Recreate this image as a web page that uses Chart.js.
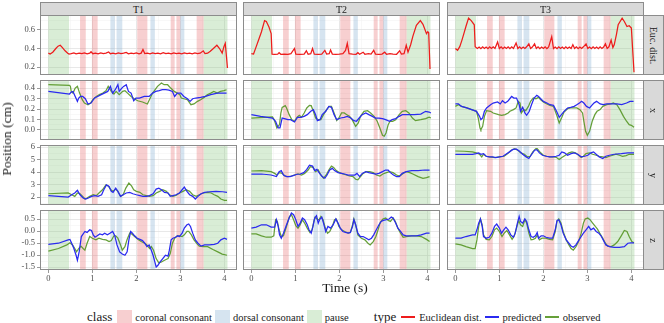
<!DOCTYPE html>
<html>
<head>
<meta charset="utf-8">
<script src="https://cdn.jsdelivr.net/npm/chart.js@4.4.1/dist/chart.umd.min.js"></script>
<style>
body { margin: 0; background: #fff; }
#wrap { position: relative; width: 664px; height: 323px; overflow: hidden; font-family: "Liberation Serif", "DejaVu Serif", serif; color: #1a1a1a; }
#wrap canvas { position: absolute; }
.strip { position: absolute; background: #d9d9d9; border: 1px solid #8c8c8c; box-sizing: border-box; font-size: 10px; display: flex; align-items: center; justify-content: center; }
.vlab { transform: rotate(90deg); white-space: nowrap; }
.title { position: absolute; font-size: 13.5px; white-space: nowrap; }
#legend { position: absolute; left: 87px; top: 309px; height: 16px; display: flex; align-items: center; font-size: 10.5px; white-space: nowrap; }
#legend .lt { font-size: 13px; margin-right: 5px; }
#legend .sw { width: 15px; height: 14px; margin-right: 3px; }
#legend .ln { width: 14px; height: 1.5px; margin-right: 4px; }
#legend .lb { margin-right: 3px; }
</style>
</head>
<body>
<div id="wrap"></div>
<script>
// [time (s), value] pairs
const eucT1 = [[0,0.35],[0.04,0.34],[0.1,0.36],[0.17,0.40],[0.22,0.425],[0.27,0.435],[0.32,0.41],[0.38,0.375],[0.44,0.35],[0.47,0.34],[0.52,0.345],[0.58,0.352],[0.63,0.343],[0.7,0.35],[0.76,0.344],[0.82,0.352],[0.88,0.343],[0.94,0.35],[0.97,0.365],[1.01,0.344],[1.07,0.35],[1.13,0.343],[1.19,0.352],[1.25,0.344],[1.31,0.35],[1.37,0.362],[1.41,0.344],[1.47,0.35],[1.53,0.343],[1.59,0.352],[1.65,0.344],[1.71,0.35],[1.77,0.358],[1.82,0.343],[1.88,0.35],[1.94,0.344],[2.0,0.352],[2.06,0.343],[2.11,0.35],[2.15,0.39],[2.19,0.345],[2.25,0.35],[2.31,0.343],[2.37,0.352],[2.43,0.344],[2.49,0.35],[2.55,0.343],[2.61,0.356],[2.67,0.344],[2.73,0.35],[2.79,0.343],[2.85,0.352],[2.91,0.344],[2.97,0.35],[3.03,0.343],[3.09,0.352],[3.15,0.344],[3.21,0.35],[3.27,0.343],[3.33,0.352],[3.39,0.344],[3.45,0.35],[3.52,0.375],[3.56,0.345],[3.62,0.35],[3.68,0.37],[3.75,0.40],[3.83,0.435],[3.89,0.40],[3.95,0.35],[3.99,0.42],[4.02,0.455],[4.05,0.3],[4.07,0.19]];
const eucT2 = [[0,0.345],[0.05,0.34],[0.11,0.42],[0.17,0.50],[0.23,0.58],[0.30,0.70],[0.34,0.69],[0.40,0.63],[0.45,0.56],[0.47,0.34],[0.53,0.338],[0.6,0.34],[0.63,0.355],[0.67,0.338],[0.75,0.34],[0.83,0.338],[0.9,0.345],[0.98,0.40],[1.01,0.34],[1.1,0.338],[1.2,0.34],[1.25,0.375],[1.29,0.338],[1.35,0.345],[1.39,0.40],[1.43,0.34],[1.52,0.338],[1.6,0.34],[1.67,0.38],[1.71,0.34],[1.77,0.345],[1.8,0.385],[1.84,0.34],[1.92,0.338],[2.0,0.34],[2.08,0.345],[2.14,0.38],[2.18,0.455],[2.22,0.345],[2.3,0.34],[2.38,0.338],[2.42,0.355],[2.46,0.338],[2.54,0.36],[2.58,0.338],[2.66,0.345],[2.72,0.34],[2.78,0.38],[2.82,0.34],[2.9,0.338],[2.97,0.34],[3.03,0.36],[3.07,0.338],[3.15,0.345],[3.22,0.34],[3.3,0.338],[3.37,0.375],[3.41,0.34],[3.47,0.345],[3.52,0.435],[3.56,0.36],[3.62,0.44],[3.67,0.53],[3.75,0.65],[3.84,0.70],[3.9,0.66],[3.98,0.56],[4.01,0.58],[4.03,0.57],[4.06,0.18]];
const eucT3 = [[0,0.40],[0.05,0.38],[0.1,0.42],[0.15,0.49],[0.2,0.57],[0.24,0.636],[0.3,0.727],[0.36,0.70],[0.43,0.655],[0.45,0.42],[0.5,0.40],[0.54,0.415],[0.58,0.398],[0.62,0.418],[0.66,0.40],[0.7,0.415],[0.74,0.398],[0.78,0.418],[0.82,0.40],[0.86,0.418],[0.9,0.40],[0.96,0.47],[1.0,0.40],[1.04,0.418],[1.08,0.398],[1.12,0.415],[1.16,0.40],[1.2,0.418],[1.24,0.398],[1.28,0.418],[1.32,0.40],[1.38,0.46],[1.42,0.40],[1.46,0.418],[1.5,0.398],[1.54,0.415],[1.58,0.40],[1.62,0.418],[1.67,0.45],[1.71,0.40],[1.75,0.415],[1.8,0.45],[1.84,0.40],[1.88,0.418],[1.92,0.398],[1.96,0.415],[2.0,0.40],[2.04,0.418],[2.08,0.398],[2.12,0.418],[2.19,0.527],[2.23,0.40],[2.27,0.415],[2.31,0.398],[2.35,0.418],[2.39,0.40],[2.43,0.415],[2.47,0.398],[2.51,0.418],[2.55,0.40],[2.59,0.415],[2.63,0.40],[2.67,0.44],[2.71,0.40],[2.75,0.418],[2.79,0.398],[2.83,0.415],[2.87,0.40],[2.91,0.418],[2.97,0.45],[3.01,0.40],[3.05,0.415],[3.09,0.398],[3.13,0.418],[3.17,0.40],[3.21,0.415],[3.25,0.398],[3.29,0.418],[3.33,0.40],[3.37,0.415],[3.41,0.45],[3.45,0.40],[3.49,0.418],[3.54,0.49],[3.58,0.41],[3.61,0.44],[3.66,0.55],[3.70,0.655],[3.79,0.727],[3.84,0.69],[3.90,0.636],[3.95,0.645],[4.0,0.62],[4.06,0.145]];

const xPredT1 = [[0,0.368],[0.48,0.343],[0.52,0.362],[0.56,0.368],[0.61,0.32],[0.66,0.273],[0.69,0.305],[0.73,0.32],[0.78,0.32],[0.84,0.298],[0.9,0.248],[0.97,0.257],[1.05,0.305],[1.12,0.32],[1.2,0.337],[1.27,0.352],[1.35,0.368],[1.41,0.416],[1.46,0.352],[1.52,0.384],[1.58,0.432],[1.61,0.368],[1.67,0.40],[1.71,0.416],[1.77,0.432],[1.82,0.368],[1.88,0.352],[1.94,0.279],[1.99,0.305],[2.07,0.305],[2.18,0.32],[2.29,0.32],[2.37,0.352],[2.44,0.368],[2.52,0.375],[2.59,0.384],[2.67,0.384],[2.74,0.381],[2.82,0.368],[2.87,0.32],[2.93,0.352],[3.01,0.352],[3.08,0.32],[3.16,0.298],[3.22,0.273],[3.28,0.298],[3.35,0.305],[3.46,0.311],[3.57,0.32],[3.69,0.337],[3.84,0.352],[3.99,0.352],[4.05,0.352]];
const xObsT1 = [[0,0.432],[0.48,0.425],[0.5,0.416],[0.52,0.368],[0.56,0.352],[0.61,0.40],[0.66,0.416],[0.71,0.352],[0.77,0.289],[0.82,0.257],[0.9,0.241],[0.96,0.257],[1.01,0.289],[1.09,0.32],[1.16,0.337],[1.24,0.352],[1.31,0.375],[1.36,0.416],[1.43,0.368],[1.49,0.343],[1.54,0.368],[1.61,0.337],[1.69,0.368],[1.74,0.375],[1.8,0.352],[1.88,0.32],[1.95,0.298],[2.03,0.279],[2.14,0.267],[2.25,0.248],[2.37,0.352],[2.48,0.416],[2.57,0.448],[2.63,0.432],[2.71,0.432],[2.78,0.40],[2.86,0.368],[2.93,0.352],[2.99,0.337],[3.02,0.305],[3.08,0.298],[3.16,0.289],[3.24,0.241],[3.31,0.248],[3.39,0.273],[3.46,0.289],[3.54,0.311],[3.61,0.337],[3.69,0.352],[3.76,0.368],[3.84,0.352],[3.91,0.368],[3.99,0.375],[4.05,0.384]];
const xPredT2 = [[0,0.146],[0.21,0.13],[0.48,0.114],[0.55,0.083],[0.61,0.019],[0.65,0.019],[0.70,0.114],[0.75,0.108],[0.83,0.098],[0.89,0.098],[0.98,0.076],[1.05,0.121],[1.12,0.121],[1.2,0.13],[1.27,0.146],[1.35,0.178],[1.41,0.194],[1.46,0.146],[1.5,0.089],[1.56,0.098],[1.61,0.146],[1.69,0.178],[1.76,0.225],[1.82,0.216],[1.88,0.146],[1.94,0.098],[2.03,0.114],[2.11,0.121],[2.18,0.13],[2.26,0.114],[2.33,0.089],[2.39,0.083],[2.45,0.114],[2.52,0.146],[2.6,0.162],[2.67,0.146],[2.75,0.13],[2.82,0.114],[2.9,0.114],[2.98,0.108],[3.05,0.098],[3.14,0.083],[3.2,0.098],[3.28,0.108],[3.36,0.13],[3.43,0.146],[3.55,0.146],[3.7,0.146],[3.85,0.152],[3.96,0.178],[4.04,0.171],[4.08,0.162]];
const xObsT2 = [[0,0.114],[0.48,0.124],[0.52,0.098],[0.58,0.019],[0.64,0.051],[0.67,0.162],[0.70,0.216],[0.77,0.232],[0.80,0.21],[0.86,0.146],[0.92,0.098],[0.98,0.083],[1.04,0.121],[1.09,0.14],[1.14,0.121],[1.2,0.162],[1.26,0.21],[1.32,0.235],[1.36,0.232],[1.41,0.178],[1.46,0.114],[1.52,0.098],[1.58,0.098],[1.64,0.146],[1.71,0.194],[1.77,0.225],[1.82,0.225],[1.88,0.162],[1.94,0.089],[1.99,0.114],[2.05,0.162],[2.11,0.162],[2.17,0.146],[2.23,0.13],[2.29,0.098],[2.37,0.035],[2.43,0.067],[2.48,0.13],[2.56,0.178],[2.64,0.184],[2.71,0.162],[2.79,0.13],[2.86,0.083],[2.92,0.019],[2.98,-0.051],[3.02,-0.06],[3.06,-0.029],[3.11,0.051],[3.15,0.083],[3.21,0.083],[3.28,0.098],[3.36,0.146],[3.43,0.178],[3.51,0.184],[3.58,0.162],[3.66,0.114],[3.73,0.089],[3.85,0.098],[3.96,0.108],[4.04,0.121],[4.08,0.114]];
const xPredT3 = [[0,0.248],[0.07,0.248],[0.14,0.225],[0.26,0.21],[0.37,0.194],[0.48,0.178],[0.55,0.13],[0.58,0.098],[0.62,0.114],[0.66,0.178],[0.71,0.21],[0.80,0.241],[0.86,0.257],[0.96,0.267],[1.02,0.248],[1.07,0.279],[1.13,0.257],[1.19,0.273],[1.25,0.305],[1.28,0.32],[1.33,0.305],[1.39,0.305],[1.45,0.241],[1.48,0.178],[1.53,0.216],[1.58,0.162],[1.62,0.14],[1.68,0.178],[1.73,0.241],[1.79,0.305],[1.85,0.33],[1.89,0.32],[1.94,0.298],[2.0,0.273],[2.08,0.257],[2.15,0.241],[2.23,0.235],[2.3,0.178],[2.36,0.121],[2.42,0.152],[2.47,0.178],[2.55,0.21],[2.62,0.216],[2.7,0.225],[2.76,0.241],[2.82,0.257],[2.87,0.273],[2.92,0.257],[2.98,0.225],[3.05,0.21],[3.1,0.235],[3.15,0.257],[3.21,0.273],[3.29,0.248],[3.36,0.241],[3.44,0.248],[3.55,0.248],[3.67,0.248],[3.78,0.241],[3.89,0.257],[3.97,0.273],[4.05,0.273]];
const xObsT3 = [[0,0.225],[0.07,0.241],[0.14,0.225],[0.26,0.21],[0.37,0.194],[0.48,0.178],[0.52,0.114],[0.56,0.019],[0.58,0.003],[0.62,0.035],[0.66,0.13],[0.71,0.184],[0.80,0.178],[0.86,0.162],[0.98,0.146],[1.05,0.14],[1.13,0.146],[1.2,0.162],[1.24,0.178],[1.32,0.194],[1.38,0.21],[1.43,0.273],[1.47,0.257],[1.5,0.162],[1.55,0.194],[1.6,0.184],[1.66,0.225],[1.71,0.273],[1.77,0.305],[1.83,0.298],[1.89,0.311],[1.94,0.289],[2.0,0.267],[2.08,0.248],[2.15,0.235],[2.23,0.225],[2.3,0.146],[2.36,0.067],[2.42,0.121],[2.47,0.171],[2.55,0.203],[2.62,0.21],[2.7,0.21],[2.76,0.21],[2.83,0.194],[2.89,0.162],[2.92,0.083],[2.96,-0.013],[3.0,-0.051],[3.05,-0.013],[3.11,0.083],[3.17,0.146],[3.22,0.178],[3.29,0.194],[3.35,0.225],[3.44,0.241],[3.52,0.248],[3.59,0.257],[3.67,0.241],[3.74,0.194],[3.82,0.13],[3.89,0.083],[3.95,0.051],[4.0,0.044],[4.06,0.025]];

const yPredT1 = [[0,2.11],[0.23,2.05],[0.45,2.0],[0.53,2.18],[0.6,2.32],[0.66,2.53],[0.72,2.18],[0.79,1.92],[0.85,1.84],[0.91,1.92],[0.98,2.05],[1.06,2.11],[1.13,2.05],[1.21,2.18],[1.26,2.58],[1.32,2.97],[1.38,2.84],[1.43,2.45],[1.47,2.37],[1.53,2.71],[1.58,2.45],[1.64,2.05],[1.7,2.18],[1.77,2.32],[1.85,2.37],[1.92,2.26],[2.0,2.18],[2.08,2.11],[2.15,2.05],[2.23,2.05],[2.3,2.11],[2.38,2.26],[2.45,2.63],[2.51,2.71],[2.57,2.58],[2.64,2.37],[2.72,2.32],[2.77,2.05],[2.83,2.11],[2.9,2.18],[2.98,2.32],[3.04,2.58],[3.09,2.79],[3.15,2.45],[3.21,2.18],[3.28,2.05],[3.34,1.84],[3.4,2.05],[3.47,2.26],[3.55,2.37],[3.66,2.42],[3.81,2.45],[3.96,2.42],[4.06,2.37]];
const yObsT1 = [[0,2.26],[0.45,2.32],[0.53,2.18],[0.6,2.05],[0.66,2.32],[0.72,2.26],[0.78,2.05],[0.83,1.84],[0.88,1.92],[0.94,2.05],[1.02,2.18],[1.09,2.11],[1.15,2.32],[1.23,2.58],[1.31,2.97],[1.36,2.89],[1.42,2.58],[1.47,2.45],[1.53,2.63],[1.58,2.45],[1.64,2.05],[1.7,2.18],[1.76,2.71],[1.83,3.11],[1.89,2.89],[1.94,2.58],[2.0,2.45],[2.08,2.37],[2.15,2.18],[2.23,2.11],[2.3,2.05],[2.38,2.11],[2.45,2.32],[2.53,2.45],[2.6,2.58],[2.68,2.45],[2.75,2.18],[2.83,2.05],[2.9,2.13],[2.98,2.32],[3.06,2.45],[3.13,2.58],[3.21,2.45],[3.28,2.18],[3.36,2.05],[3.43,2.18],[3.52,2.32],[3.62,2.37],[3.7,2.32],[3.77,2.18],[3.85,2.05],[3.92,1.84],[4.0,1.74],[4.06,1.74]];
const yPredT2 = [[0,3.84],[0.23,3.84],[0.45,3.76],[0.57,3.63],[0.63,4.03],[0.68,4.11],[0.73,3.76],[0.8,3.63],[0.88,3.63],[0.95,3.71],[1.04,3.82],[1.11,3.84],[1.19,3.95],[1.26,4.21],[1.32,4.55],[1.39,4.47],[1.44,4.11],[1.49,4.21],[1.55,3.89],[1.61,3.63],[1.67,3.5],[1.72,3.76],[1.78,4.16],[1.84,4.29],[1.89,4.11],[1.97,3.95],[2.05,3.89],[2.12,3.84],[2.2,3.76],[2.27,3.76],[2.35,3.76],[2.4,3.89],[2.46,3.63],[2.52,3.89],[2.6,4.03],[2.67,3.95],[2.75,3.89],[2.83,3.84],[2.9,3.89],[2.98,4.03],[3.05,4.16],[3.11,4.16],[3.16,3.95],[3.23,3.76],[3.3,3.63],[3.36,3.63],[3.43,3.89],[3.52,4.03],[3.64,4.11],[3.79,4.11],[3.94,4.16],[4.05,4.16]];
const yObsT2 = [[0,4.08],[0.23,4.11],[0.45,4.03],[0.53,3.89],[0.58,3.76],[0.64,3.95],[0.7,3.89],[0.76,3.68],[0.83,3.63],[0.91,3.68],[0.98,3.76],[1.06,3.84],[1.14,3.76],[1.21,3.89],[1.29,4.16],[1.34,4.42],[1.4,4.37],[1.46,4.03],[1.52,4.16],[1.58,3.76],[1.64,3.5],[1.7,3.76],[1.77,4.21],[1.82,4.47],[1.87,4.37],[1.93,4.11],[2.0,3.95],[2.08,3.84],[2.16,3.76],[2.23,3.68],[2.31,3.63],[2.37,3.42],[2.42,3.37],[2.48,3.63],[2.54,3.89],[2.61,4.03],[2.69,4.03],[2.77,3.95],[2.84,3.76],[2.92,3.68],[2.99,3.84],[3.07,3.95],[3.14,4.03],[3.22,3.95],[3.3,3.76],[3.37,3.68],[3.45,3.89],[3.52,4.03],[3.6,3.95],[3.67,3.84],[3.79,3.63],[3.9,3.5],[3.98,3.55],[4.05,3.63]];
const yPredT3 = [[0,5.42],[0.39,5.42],[0.47,5.47],[0.53,5.53],[0.58,5.42],[0.64,5.47],[0.7,5.26],[0.77,5.21],[0.85,5.21],[0.92,5.16],[1.0,5.21],[1.08,5.26],[1.15,5.42],[1.23,5.61],[1.3,5.79],[1.38,5.84],[1.45,5.68],[1.53,5.42],[1.61,5.21],[1.67,5.08],[1.72,5.34],[1.8,5.74],[1.85,5.79],[1.91,5.53],[1.98,5.34],[2.06,5.26],[2.14,5.21],[2.21,5.21],[2.29,5.26],[2.36,5.34],[2.42,5.61],[2.48,5.53],[2.55,5.34],[2.63,5.47],[2.7,5.53],[2.78,5.42],[2.86,5.21],[2.94,5.26],[3.01,5.34],[3.08,5.53],[3.14,5.61],[3.2,5.42],[3.27,5.21],[3.35,5.08],[3.42,5.26],[3.5,5.34],[3.61,5.42],[3.77,5.47],[3.92,5.53],[4.06,5.53]];
const yObsT3 = [[0,5.68],[0.2,5.66],[0.39,5.61],[0.47,5.53],[0.55,5.42],[0.6,5.21],[0.64,5.42],[0.7,5.26],[0.77,5.21],[0.89,5.16],[1.0,5.21],[1.11,5.26],[1.19,5.47],[1.27,5.74],[1.34,5.87],[1.42,5.74],[1.49,5.53],[1.57,5.42],[1.64,5.21],[1.7,5.26],[1.76,5.61],[1.83,5.87],[1.86,5.87],[1.92,5.61],[2.0,5.34],[2.08,5.26],[2.15,5.21],[2.23,5.21],[2.3,5.16],[2.36,5.0],[2.42,5.16],[2.5,5.34],[2.58,5.53],[2.65,5.61],[2.73,5.53],[2.8,5.34],[2.86,5.16],[2.91,5.26],[2.97,5.47],[3.05,5.53],[3.12,5.42],[3.2,5.34],[3.27,5.26],[3.35,5.21],[3.42,5.16],[3.5,5.26],[3.58,5.34],[3.65,5.42],[3.73,5.34],[3.8,5.26],[3.88,5.31],[3.95,5.42],[4.06,5.42]];

const zPredT1 = [[0,-0.56],[0.23,-0.51],[0.45,-0.37],[0.49,-0.35],[0.53,-0.51],[0.58,-0.73],[0.63,-1.01],[0.66,-1.22],[0.7,-0.87],[0.75,-0.23],[0.83,-0.02],[0.88,-0.06],[0.94,0.05],[0.98,0.02],[1.02,-0.16],[1.06,-0.26],[1.11,-0.2],[1.17,-0.12],[1.23,-0.16],[1.28,-0.09],[1.34,-0.16],[1.4,-0.09],[1.46,-0.02],[1.51,-0.2],[1.56,-0.58],[1.62,-0.87],[1.68,-0.96],[1.74,-1.01],[1.79,-0.87],[1.83,-0.37],[1.87,-0.02],[1.91,-0.09],[1.96,-0.2],[2.02,-0.3],[2.08,-0.35],[2.14,-0.4],[2.19,-0.51],[2.24,-0.65],[2.29,-0.58],[2.34,-0.8],[2.38,-1.01],[2.42,-1.29],[2.45,-1.5],[2.49,-1.43],[2.54,-1.29],[2.6,-1.15],[2.66,-1.01],[2.72,-1.05],[2.75,-0.8],[2.79,-0.37],[2.83,-0.3],[2.89,-0.26],[2.94,-0.2],[2.98,-0.23],[3.04,-0.09],[3.09,0.12],[3.15,0.26],[3.19,0.29],[3.23,0.19],[3.28,-0.09],[3.34,-0.37],[3.4,-0.51],[3.47,-0.63],[3.55,-0.58],[3.66,-0.58],[3.77,-0.56],[3.85,-0.51],[3.92,-0.37],[4.0,-0.3],[4.06,-0.35]];
const zObsT1 = [[0,-0.84],[0.23,-0.73],[0.42,-0.58],[0.49,-0.49],[0.55,-0.58],[0.6,-0.73],[0.64,-0.87],[0.69,-0.73],[0.74,-0.63],[0.79,-0.73],[0.83,-0.8],[0.88,-0.51],[0.94,-0.23],[1.0,-0.3],[1.08,-0.37],[1.15,-0.3],[1.23,-0.35],[1.31,-0.37],[1.38,-0.44],[1.43,-0.4],[1.49,-0.2],[1.53,-0.2],[1.58,-0.3],[1.64,-0.58],[1.68,-0.8],[1.74,-0.65],[1.79,-0.35],[1.85,-0.09],[1.89,-0.12],[1.96,-0.23],[2.04,-0.35],[2.11,-0.44],[2.19,-0.51],[2.24,-0.58],[2.3,-0.73],[2.34,-0.65],[2.39,-0.8],[2.45,-1.15],[2.51,-1.33],[2.57,-1.29],[2.64,-1.22],[2.72,-1.15],[2.77,-0.94],[2.82,-0.51],[2.87,-0.3],[2.93,-0.2],[2.98,-0.2],[3.04,-0.23],[3.09,-0.16],[3.15,-0.02],[3.19,-0.02],[3.25,-0.16],[3.31,-0.37],[3.38,-0.54],[3.43,-0.63],[3.52,-0.65],[3.62,-0.65],[3.74,-0.77],[3.85,-0.87],[3.95,-0.96],[4.06,-1.01]];
const zPredT2 = [[0,0.12],[0.11,0.16],[0.23,0.26],[0.34,0.26],[0.45,0.16],[0.53,0.16],[0.57,0.47],[0.61,0.19],[0.64,-0.16],[0.68,-0.3],[0.73,-0.09],[0.8,0.26],[0.86,0.54],[0.91,0.75],[0.96,0.68],[1.01,0.47],[1.06,0.19],[1.11,0.33],[1.16,0.54],[1.21,0.47],[1.27,0.26],[1.31,0.05],[1.36,-0.09],[1.4,0.19],[1.44,0.54],[1.48,0.64],[1.52,0.33],[1.55,0.47],[1.6,0.58],[1.64,0.33],[1.69,-0.02],[1.74,0.19],[1.8,0.12],[1.86,0.26],[1.92,0.5],[1.97,0.33],[2.02,0.12],[2.08,-0.02],[2.14,-0.06],[2.2,-0.09],[2.25,-0.06],[2.3,0.19],[2.33,0.47],[2.37,0.26],[2.42,-0.09],[2.48,-0.23],[2.54,-0.23],[2.61,-0.3],[2.67,-0.37],[2.73,-0.3],[2.78,-0.16],[2.84,0.05],[2.9,0.26],[2.95,0.4],[3.0,0.44],[3.07,0.47],[3.13,0.5],[3.18,0.58],[3.22,0.54],[3.28,0.33],[3.33,0.12],[3.39,-0.02],[3.45,-0.16],[3.52,-0.2],[3.64,-0.2],[3.75,-0.2],[3.86,-0.16],[3.98,-0.09],[4.05,-0.09]];
const zObsT2 = [[0,-0.12],[0.11,-0.12],[0.23,-0.2],[0.34,-0.26],[0.45,-0.26],[0.51,-0.2],[0.55,0.47],[0.59,0.4],[0.63,0.05],[0.68,-0.23],[0.73,-0.2],[0.8,0.19],[0.86,0.58],[0.91,0.68],[0.96,0.47],[1.01,0.22],[1.06,0.12],[1.11,0.26],[1.16,0.47],[1.21,0.33],[1.27,0.12],[1.33,-0.06],[1.38,0.05],[1.42,0.4],[1.45,0.58],[1.49,0.5],[1.54,0.47],[1.58,0.61],[1.63,0.47],[1.68,0.12],[1.73,-0.09],[1.78,-0.02],[1.84,0.19],[1.89,0.47],[1.93,0.5],[1.99,0.19],[2.05,0.05],[2.12,-0.02],[2.2,-0.09],[2.25,-0.06],[2.3,0.26],[2.33,0.5],[2.37,0.26],[2.42,-0.16],[2.5,-0.3],[2.58,-0.37],[2.65,-0.51],[2.7,-0.58],[2.77,-0.44],[2.83,-0.23],[2.88,0.05],[2.93,0.36],[2.99,0.5],[3.05,0.54],[3.11,0.44],[3.16,0.4],[3.22,0.54],[3.27,0.4],[3.33,0.12],[3.39,-0.09],[3.45,-0.26],[3.52,-0.23],[3.64,-0.2],[3.75,-0.2],[3.86,-0.23],[3.98,-0.35],[4.05,-0.44]];
const zPredT3 = [[0,-0.3],[0.13,-0.3],[0.24,-0.23],[0.39,-0.16],[0.45,-0.16],[0.49,0.05],[0.53,0.33],[0.57,0.5],[0.61,0.19],[0.64,-0.23],[0.7,-0.3],[0.77,-0.26],[0.83,-0.09],[0.89,0.19],[0.94,0.29],[1.0,0.12],[1.05,-0.09],[1.1,0.05],[1.15,0.16],[1.2,0.05],[1.26,-0.16],[1.32,-0.26],[1.36,-0.09],[1.41,0.33],[1.45,0.61],[1.48,0.4],[1.53,0.33],[1.58,0.5],[1.62,0.4],[1.67,0.05],[1.72,-0.23],[1.77,-0.26],[1.82,-0.2],[1.86,-0.06],[1.89,-0.3],[1.95,-0.2],[2.0,-0.2],[2.06,-0.26],[2.14,-0.3],[2.21,-0.3],[2.27,0.05],[2.31,0.44],[2.35,0.47],[2.4,0.26],[2.45,-0.09],[2.52,-0.37],[2.58,-0.51],[2.63,-0.63],[2.68,-0.68],[2.74,-0.58],[2.8,-0.4],[2.86,-0.23],[2.91,-0.09],[2.97,0.05],[3.03,0.19],[3.08,0.05],[3.14,0.12],[3.2,-0.02],[3.26,-0.09],[3.31,-0.2],[3.36,-0.37],[3.42,-0.58],[3.5,-0.65],[3.61,-0.68],[3.73,-0.68],[3.84,-0.65],[3.92,-0.51],[3.99,-0.49],[4.06,-0.49]];
const zObsT3 = [[0,-0.54],[0.13,-0.58],[0.24,-0.65],[0.39,-0.73],[0.45,-0.73],[0.49,-0.37],[0.53,0.19],[0.57,0.5],[0.61,0.26],[0.64,-0.16],[0.7,-0.35],[0.77,-0.37],[0.83,-0.23],[0.89,0.05],[0.94,0.12],[1.0,-0.02],[1.06,-0.23],[1.11,-0.09],[1.17,0.02],[1.23,-0.16],[1.29,-0.35],[1.34,-0.2],[1.39,0.12],[1.44,0.44],[1.48,0.26],[1.53,0.19],[1.58,0.47],[1.62,0.33],[1.67,-0.09],[1.72,-0.37],[1.77,-0.35],[1.82,-0.3],[1.86,-0.16],[1.91,-0.37],[1.97,-0.3],[2.05,-0.3],[2.14,-0.35],[2.21,-0.37],[2.27,-0.02],[2.31,0.4],[2.35,0.5],[2.4,0.33],[2.45,-0.02],[2.52,-0.37],[2.58,-0.58],[2.63,-0.73],[2.68,-0.8],[2.74,-0.65],[2.8,-0.44],[2.86,-0.09],[2.91,0.33],[2.95,0.5],[3.01,0.54],[3.06,0.47],[3.12,0.33],[3.18,0.19],[3.23,0.08],[3.28,-0.09],[3.35,-0.3],[3.41,-0.51],[3.46,-0.63],[3.54,-0.65],[3.61,-0.58],[3.69,-0.44],[3.77,-0.2],[3.84,0.02],[3.9,-0.02],[3.95,-0.23],[4.01,-0.44],[4.06,-0.49]];

// segment classes, [start, end] in seconds
const coronalSpans = [[0.72,0.85],[0.99,1.12],[2.02,2.25],[2.78,2.87],[2.91,3.0],[3.37,3.53]];
const dorsalSpans = [[1.41,1.51],[1.55,1.68],[2.32,2.42],[3.0,3.09]];
const pauseSpans = [[0,0.47],[3.53,4.07]];

const colNames = ['T1', 'T2', 'T3'];
const rowNames = ['Euc. dist.', 'x', 'y', 'z'];
const xMajor = [0, 1, 2, 3, 4];
const xMinor = [0.5, 1.5, 2.5, 3.5];
const xRange = [-0.19, 4.287];
const yMajor = [[0.2, 0.4, 0.6], [0, 0.1, 0.2, 0.3, 0.4], [2, 3, 4, 5, 6], [-1.5, -1, -0.5, 0, 0.5]];
const yMinor = [[0.3, 0.5, 0.7], [-0.05, 0.05, 0.15, 0.25, 0.35, 0.45], [1.5, 2.5, 3.5, 4.5, 5.5], [-1.25, -0.75, -0.25, 0.25, 0.75]];
const yRange = [[0.115, 0.76], [-0.096, 0.477], [1.36, 6.16], [-1.625, 0.875]];
const yDigits = [1, 1, 0, 1];

const panelSeries = [
    [[eucT1], [eucT2], [eucT3]],
    [[xPredT1, xObsT1], [xPredT2, xObsT2], [xPredT3, xObsT3]],
    [[yPredT1, yObsT1], [yPredT2, yObsT2], [yPredT3, yObsT3]],
    [[zPredT1, zObsT1], [zPredT2, zObsT2], [zPredT3, zObsT3]]
];

// styling
const RED = '#ee1c1c', BLUE = '#2a2af0', GREEN = 'rgba(85,150,35,0.9)';
const PINK_FILL = 'rgba(228,95,100,0.3)', BLUE_FILL = 'rgba(120,165,205,0.3)', GREEN_FILL = 'rgba(130,195,120,0.3)';
const colLeft = [40, 243, 447], rowTop = [15, 80, 145, 210];
const panelW = 197, panelH = 60, pad = 10, axisW = 40, axisH = 14;
const tickFont = { family: "'Liberation Serif', 'DejaVu Serif', serif", size: 8.5 };

const wrap = document.getElementById('wrap');

function mkTicks(major, minor) {
    return major.map(v => ({ value: v, isMajor: true }))
        .concat(minor.map(v => ({ value: v, isMajor: false })))
        .sort((a, b) => a.value - b.value);
}
const gridColor = c => c.tick && c.tick.isMajor ? '#e2e2e2' : '#f0f0f0';
const gridWidth = c => c.tick && c.tick.isMajor ? 0.8 : 0.5;
const tickColor = c => c.tick && c.tick.isMajor ? '#9a9a9a' : 'rgba(0,0,0,0)';

const panelPlugin = {
    id: 'panel',
    beforeDatasetsDraw(chart) {
        const { ctx, chartArea: a, scales: { x } } = chart;
        ctx.save();
        ctx.beginPath();
        ctx.rect(a.left, a.top, a.width, a.height);
        ctx.clip();
        [[coronalSpans, PINK_FILL], [dorsalSpans, BLUE_FILL], [pauseSpans, GREEN_FILL]].forEach(([spans, fill]) => {
            ctx.fillStyle = fill;
            spans.forEach(([s, e]) => {
                const x0 = x.getPixelForValue(s), x1 = x.getPixelForValue(e);
                ctx.fillRect(x0, a.top, x1 - x0, a.height);
            });
        });
        ctx.restore();
    },
    afterDraw(chart) {
        const { ctx, chartArea: a } = chart;
        ctx.save();
        ctx.strokeStyle = '#8c8c8c';
        ctx.lineWidth = 1;
        ctx.strokeRect(Math.round(a.left) + 0.5, Math.round(a.top) + 0.5, Math.round(a.width) - 1, Math.round(a.height) - 1);
        ctx.restore();
    }
};

function makePanel(r, c) {
    const extraL = c === 0 ? axisW : 0;
    const extraB = r === 3 ? axisH : 0;
    const w = panelW + 2 * pad + extraL, h = panelH + 2 * pad + extraB;
    const cv = document.createElement('canvas');
    cv.width = w; cv.height = h;
    cv.style.width = w + 'px'; cv.style.height = h + 'px';
    cv.style.left = (colLeft[c] - pad - extraL) + 'px';
    cv.style.top = (rowTop[r] - pad) + 'px';
    wrap.appendChild(cv);

    const colors = r === 0 ? [RED] : [BLUE, GREEN];
    const datasets = panelSeries[r][c].map((s, i) => ({
        data: s.map(([x, y]) => ({ x, y })),
        borderColor: colors[i],
        borderWidth: 1.25,
        pointRadius: 0,
        tension: 0
    }));

    new Chart(cv, {
        type: 'line',
        data: { datasets },
        options: {
            responsive: false,
            animation: false,
            devicePixelRatio: 1,
            layout: { padding: pad },
            plugins: { legend: { display: false }, tooltip: { enabled: false } },
            scales: {
                x: {
                    type: 'linear', min: xRange[0], max: xRange[1],
                    afterBuildTicks: s => { s.ticks = mkTicks(xMajor, xMinor); },
                    afterFit: s => { s.height = extraB; },
                    ticks: {
                        display: r === 3, autoSkip: false, maxRotation: 0, padding: 1,
                        color: '#4d4d4d', font: tickFont,
                        callback: (v, i, t) => t[i].isMajor ? String(v) : ''
                    },
                    grid: { color: gridColor, lineWidth: gridWidth, drawTicks: r === 3, tickLength: 3, tickColor: tickColor, tickWidth: 1 },
                    border: { display: false }
                },
                y: {
                    type: 'linear', min: yRange[r][0], max: yRange[r][1],
                    afterBuildTicks: s => { s.ticks = mkTicks(yMajor[r], yMinor[r]); },
                    afterFit: s => { s.width = extraL; },
                    ticks: {
                        display: c === 0, autoSkip: false, padding: 2,
                        color: '#4d4d4d', font: tickFont,
                        callback: (v, i, t) => t[i].isMajor ? v.toFixed(yDigits[r]) : ''
                    },
                    grid: { color: gridColor, lineWidth: gridWidth, drawTicks: c === 0, tickLength: 3, tickColor: tickColor, tickWidth: 1 },
                    border: { display: false }
                }
            }
        },
        plugins: [panelPlugin]
    });
}

for (let r = 0; r < 4; r++) {
    for (let c = 0; c < 3; c++) makePanel(r, c);
}

// facet strips
colNames.forEach((name, c) => {
    const d = document.createElement('div');
    d.className = 'strip';
    Object.assign(d.style, { left: colLeft[c] + 'px', top: '2px', width: panelW + 'px', height: '14px' });
    d.textContent = name;
    wrap.appendChild(d);
});
rowNames.forEach((name, r) => {
    const d = document.createElement('div');
    d.className = 'strip';
    Object.assign(d.style, { left: (colLeft[2] + panelW - 1) + 'px', top: rowTop[r] + 'px', width: '21px', height: panelH + 'px' });
    const s = document.createElement('span');
    s.className = 'vlab';
    s.textContent = name;
    d.appendChild(s);
    wrap.appendChild(d);
});

// axis titles
const yTitle = document.createElement('div');
yTitle.className = 'title';
yTitle.textContent = 'Position (cm)';
Object.assign(yTitle.style, { left: '7px', top: '139px', transform: 'translate(-50%,-50%) rotate(-90deg)' });
wrap.appendChild(yTitle);
const xTitle = document.createElement('div');
xTitle.className = 'title';
xTitle.textContent = 'Time (s)';
Object.assign(xTitle.style, { left: '345px', top: '288px', transform: 'translate(-50%,-50%)' });
wrap.appendChild(xTitle);

// legend
const legend = document.createElement('div');
legend.id = 'legend';
legend.innerHTML =
    '<span class="lt">class</span>' +
    '<span class="sw" style="background:' + PINK_FILL + '"></span><span class="lb">coronal consonant</span>' +
    '<span class="sw" style="background:' + BLUE_FILL + '"></span><span class="lb">dorsal consonant</span>' +
    '<span class="sw" style="background:' + GREEN_FILL + '"></span><span class="lb" style="margin-right:25px">pause</span>' +
    '<span class="lt">type</span>' +
    '<span class="ln" style="background:' + RED + '"></span><span class="lb">Euclidean dist.</span>' +
    '<span class="ln" style="background:' + BLUE + '"></span><span class="lb">predicted</span>' +
    '<span class="ln" style="background:' + GREEN + '"></span><span class="lb">observed</span>';
wrap.appendChild(legend);
</script>
</body>
</html>
